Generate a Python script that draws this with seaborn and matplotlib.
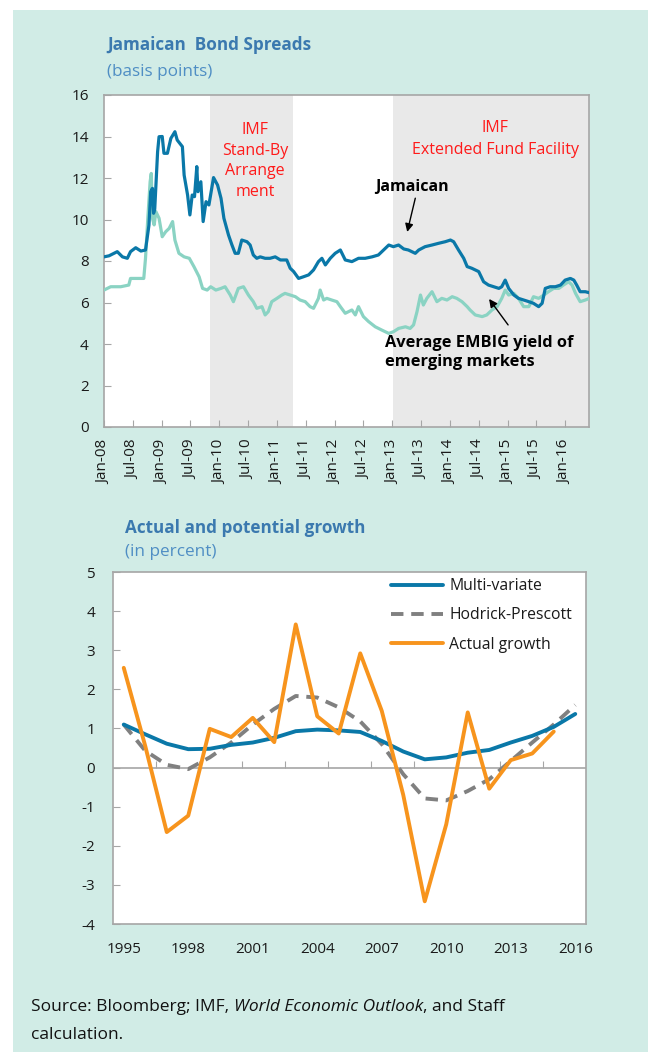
import numpy as np
import pandas as pd
import matplotlib
matplotlib.use("Agg")
import matplotlib.pyplot as plt
import matplotlib.dates as mdates
from matplotlib.patches import Rectangle
import seaborn as sns

# ---------------- data ----------------
# Top chart: years elapsed since Jan-2008, spreads in basis points (x100)
jam_t = [0, 0.087, 0.23, 0.32, 0.405, 0.46, 0.55, 0.64, 0.72, 0.78, 0.81, 0.84, 0.86, 0.88,
         0.93, 0.955, 1.01, 1.04, 1.10, 1.16, 1.23, 1.27, 1.36, 1.39, 1.45, 1.49, 1.53, 1.57,
         1.61, 1.63, 1.68, 1.72, 1.77, 1.82, 1.90, 1.97, 2.03, 2.08, 2.16, 2.22, 2.275, 2.33,
         2.39, 2.48, 2.535, 2.59, 2.65, 2.71, 2.795, 2.88, 2.97, 3.06, 3.17, 3.23, 3.29, 3.375,
         3.46, 3.55, 3.635, 3.72, 3.78, 3.84, 3.925, 4.01, 4.10, 4.185, 4.30, 4.415, 4.53, 4.65,
         4.76, 4.85, 4.94, 5.02, 5.11, 5.20, 5.28, 5.40, 5.46, 5.57, 5.69, 5.80, 5.92, 6.01,
         6.065, 6.15, 6.24, 6.30, 6.38, 6.50, 6.585, 6.67, 6.76, 6.85, 6.90, 6.96, 7.02, 7.11,
         7.19, 7.28, 7.37, 7.45, 7.54, 7.60, 7.655, 7.74, 7.83, 7.92, 8.00, 8.09, 8.15, 8.20,
         8.26, 8.35, 8.42]
jam_v = [8.2, 8.25, 8.45, 8.2, 8.13, 8.45, 8.64, 8.48, 8.53, 9.73, 11.34, 11.5, 10.3, 10.5,
         13.27, 13.99, 14.0, 13.19, 13.19, 13.91, 14.23, 13.83, 13.51, 12.14, 11.18, 10.22, 11.18, 11.1,
         12.55, 11.34, 11.82, 9.9, 10.86, 10.7, 12.02, 11.66, 11.02, 10.06, 9.25, 8.77, 8.37, 8.37,
         9.01, 8.93, 8.77, 8.29, 8.13, 8.2, 8.13, 8.13, 8.2, 8.05, 8.05, 7.65, 7.49, 7.16,
         7.24, 7.33, 7.57, 7.97, 8.13, 7.81, 8.13, 8.37, 8.53, 8.05, 7.97, 8.13, 8.13, 8.2,
         8.29, 8.53, 8.77, 8.69, 8.77, 8.58, 8.53, 8.37, 8.53, 8.69, 8.77, 8.85, 8.93, 9.01,
         8.93, 8.53, 8.13, 7.73, 7.65, 7.49, 7.0, 6.84, 6.76, 6.68, 6.76, 7.08, 6.68, 6.36,
         6.2, 6.12, 6.04, 5.96, 5.8, 5.96, 6.68, 6.76, 6.76, 6.84, 7.08, 7.16, 7.08, 6.84,
         6.52, 6.52, 6.47]

emb_t = [0, 0.116, 0.29, 0.43, 0.46, 0.58, 0.69, 0.72, 0.76, 0.80, 0.82, 0.84, 0.87, 0.90,
         0.955, 1.01, 1.07, 1.13, 1.19, 1.23, 1.30, 1.39, 1.48, 1.56, 1.65, 1.71, 1.79, 1.85,
         1.94, 2.03, 2.10, 2.19, 2.245, 2.33, 2.42, 2.505, 2.59, 2.65, 2.74, 2.795, 2.85, 2.91,
         3.0, 3.085, 3.14, 3.23, 3.32, 3.40, 3.49, 3.575, 3.635, 3.72, 3.75, 3.81, 3.865, 3.95,
         4.04, 4.10, 4.185, 4.30, 4.36, 4.415, 4.50, 4.59, 4.705, 4.82, 4.94, 5.02, 5.11, 5.23,
         5.31, 5.37, 5.43, 5.49, 5.54, 5.60, 5.69, 5.775, 5.86, 5.95, 6.04, 6.12, 6.21, 6.30,
         6.35, 6.44, 6.56, 6.64, 6.73, 6.82, 6.90, 6.96, 7.02, 7.11, 7.19, 7.28, 7.37, 7.45,
         7.54, 7.63, 7.71, 7.80, 7.89, 7.97, 8.06, 8.12, 8.18, 8.26, 8.35, 8.42]
emb_v = [6.6, 6.76, 6.76, 6.84, 7.16, 7.16, 7.16, 8.13, 10.06, 11.82, 12.22, 10.06, 9.74, 10.38,
         10.06, 9.17, 9.41, 9.57, 9.9, 9.01, 8.37, 8.2, 8.13, 7.73, 7.24, 6.68, 6.6, 6.76,
         6.6, 6.68, 6.76, 6.36, 6.04, 6.68, 6.76, 6.36, 6.04, 5.72, 5.8, 5.4, 5.56, 6.04,
         6.2, 6.36, 6.44, 6.36, 6.28, 6.12, 6.04, 5.8, 5.72, 6.2, 6.6, 6.12, 6.2, 6.12,
         6.04, 5.8, 5.48, 5.64, 5.4, 5.8, 5.32, 5.08, 4.83, 4.67, 4.51, 4.59, 4.75, 4.83,
         4.75, 4.92, 5.56, 6.36, 5.88, 6.2, 6.52, 6.04, 6.2, 6.12, 6.28, 6.2, 6.04, 5.8,
         5.64, 5.4, 5.32, 5.4, 5.64, 5.8, 6.2, 6.6, 6.36, 6.44, 6.2, 5.8, 5.8, 6.28,
         6.2, 6.36, 6.52, 6.68, 6.68, 6.84, 7.0, 6.84, 6.44, 6.04, 6.12, 6.2]

sba_period = ("2009-11-02", "2011-04-11")
eff_period = ("2013-01-07", "2016-05-31")
top_xlim = ("2008-01-01", "2016-05-31")

# Bottom chart
years = list(range(1995, 2017))
multi_variate = [1.10, 0.85, 0.61, 0.47, 0.48, 0.58, 0.64, 0.76, 0.93, 0.97, 0.95, 0.91,
                 0.68, 0.41, 0.21, 0.26, 0.38, 0.45, 0.64, 0.81, 1.04, 1.37]
hodrick_prescott = [1.10, 0.43, 0.07, -0.04, 0.26, 0.64, 1.10, 1.50, 1.83, 1.79, 1.54, 1.18,
                    0.60, -0.17, -0.79, -0.84, -0.60, -0.30, 0.17, 0.64, 1.10, 1.60]
actual_growth = [2.55, 0.55, -1.65, -1.23, 0.99, 0.78, 1.27, 0.65, 3.66, 1.31, 0.87, 2.92,
                 1.45, -0.70, -3.42, -1.45, 1.41, -0.54, 0.19, 0.36, 0.92, np.nan]

# ---------------- style ----------------
sns.set_style("white")
plt.rcParams['font.family'] = ['Open Sans', 'DejaVu Sans']
plt.rcParams['axes.linewidth'] = 1.0
plt.rcParams['axes.unicode_minus'] = False

MINT = '#D1ECE6'
FRAME = '#A6A6A6'
TITLE_C = '#3B79AF'
SUB_C = '#4F8EC4'
JAM_C = '#0A78A8'
EMB_C = '#8AD3C3'
RED = '#FF1A1A'
TXT = '#1A1A1A'

W, H = 656, 1062
fig = plt.figure(figsize=(W / 100, H / 100), dpi=100)
fig.patches.append(Rectangle((13 / W, 1 - 1052 / H), (648 - 13) / W, (1052 - 10) / H,
                             transform=fig.transFigure, facecolor=MINT, edgecolor='none', zorder=-10))

def fx(px):
    return px / W

def fy(py):
    return 1 - py / H

# ---------------- top chart ----------------
ax1 = fig.add_axes([fx(104), fy(427), fx(589) - fx(104), fy(95) - fy(427)])
ax1.set_facecolor('white')
base = pd.Timestamp("2008-01-01")
df_j = pd.DataFrame({"date": base + pd.to_timedelta(np.array(jam_t) * 365.25, unit="D"),
                     "value": jam_v})
df_e = pd.DataFrame({"date": base + pd.to_timedelta(np.array(emb_t) * 365.25, unit="D"),
                     "value": emb_v})

ax1.axvspan(pd.Timestamp(sba_period[0]), pd.Timestamp(sba_period[1]), color='#E9E9E9', lw=0, zorder=0)
ax1.axvspan(pd.Timestamp(eff_period[0]), pd.Timestamp(eff_period[1]), color='#E9E9E9', lw=0, zorder=0)

sns.lineplot(data=df_e, x="date", y="value", ax=ax1, color=EMB_C, lw=2.3, zorder=3)
sns.lineplot(data=df_j, x="date", y="value", ax=ax1, color=JAM_C, lw=2.3, zorder=4)

ax1.set_xlim(pd.Timestamp(top_xlim[0]), pd.Timestamp(top_xlim[1]))
ax1.set_ylim(0, 16)
ax1.set_yticks(range(0, 17, 2))
ax1.xaxis.set_major_locator(mdates.MonthLocator(bymonth=[1, 7]))
ax1.xaxis.set_major_formatter(mdates.DateFormatter('%b-%y'))
ax1.set_xticks([t for t in ax1.get_xticks() if t < mdates.date2num(pd.Timestamp("2016-03-01"))])
ax1.set_xlabel("")
ax1.set_ylabel("")
for s in ax1.spines.values():
    s.set_color(FRAME)
    s.set_linewidth(1.2)
ax1.tick_params(axis='y', direction='in', length=5, color=FRAME, labelsize=11, pad=11,
                labelcolor=TXT, left=True)
ax1.tick_params(axis='x', direction='in', length=5, color=FRAME, labelsize=11, pad=9,
                labelcolor=TXT, bottom=True, labelrotation=90)

def d(t):
    return base + pd.Timedelta(days=t * 365.25)

ax1.text(d(2.62), 12.82, "IMF\nStand-By\nArrange\nment", color=RED, fontsize=11.5,
         ha='center', va='center', linespacing=1.38, zorder=5)
ax1.text(d(6.79), 13.88, "IMF\nExtended Fund Facility", color=RED, fontsize=11.5,
         ha='center', va='center', linespacing=1.42, zorder=5)
ax1.annotate("Jamaican", xy=(d(5.26), 9.4), xytext=(d(5.35), 11.57), fontsize=11.5,
             fontweight='bold', ha='center', va='center', color='black', zorder=6,
             arrowprops=dict(arrowstyle='-|>', color='black', lw=1.0, mutation_scale=12,
                             shrinkA=0, shrinkB=0, relpos=(0.55, 0)))
ax1.annotate("", xy=(d(6.68), 6.17), xytext=(d(7.01), 4.92), zorder=6,
             arrowprops=dict(arrowstyle='-|>', color='black', lw=1.0, mutation_scale=12,
                             shrinkA=0, shrinkB=0))
ax1.text(d(4.88), 3.59, "Average EMBIG yield of\nemerging markets", fontsize=11.8,
         fontweight='bold', ha='left', va='center', color='black', linespacing=1.32, zorder=6)

fig.text(fx(107), fy(45), "Jamaican  Bond Spreads", fontsize=12.3, fontweight='bold',
         color=TITLE_C, ha='left', va='center')
fig.text(fx(107), fy(72), "(basis points)", fontsize=12.3, color=SUB_C, ha='left', va='center')

# ---------------- bottom chart ----------------
ax2 = fig.add_axes([fx(113), fy(924), fx(586) - fx(113), fy(572) - fy(924)])
ax2.set_facecolor('white')
df_g = pd.DataFrame({"year": years, "Multi-variate": multi_variate,
                     "Hodrick-Prescott": hodrick_prescott, "Actual growth": actual_growth})
sns.lineplot(data=df_g, x="year", y="Multi-variate", ax=ax2, color='#0A78A8', lw=2.8,
             label="Multi-variate", zorder=3)
sns.lineplot(data=df_g, x="year", y="Hodrick-Prescott", ax=ax2, color='#808080', lw=2.8,
             linestyle=(0, (3.2, 2.0)), label="Hodrick-Prescott", zorder=2)
sns.lineplot(data=df_g, x="year", y="Actual growth", ax=ax2, color='#F7941D', lw=2.8,
             label="Actual growth", zorder=4)
ax2.set_xlim(1994.5, 2016.5)
ax2.set_ylim(-4, 5)
ax2.set_yticks(range(-4, 6))
ax2.set_xticks(years[::3])
ax2.set_xlabel("")
ax2.set_ylabel("")
for s in ax2.spines.values():
    s.set_color(FRAME)
    s.set_linewidth(1.2)
ax2.tick_params(axis='y', direction='in', length=5, color=FRAME, labelsize=11, pad=13,
                labelcolor=TXT, left=True)
ax2.tick_params(axis='x', length=0, labelsize=11, pad=13, labelcolor=TXT)
ax2.axhline(0, color=FRAME, lw=1.2, zorder=1)
sec = ax2.secondary_xaxis(4 / 9)
sec.set_xticks(np.arange(1996.5, 2015, 2))
sec.tick_params(direction='in', length=5, color=FRAME, labelbottom=False, labeltop=False)
sec.spines['bottom'].set_visible(False)
sec.spines['top'].set_visible(False)

leg = ax2.legend(loc='upper left', bbox_to_anchor=(fx(391), fy(578)), bbox_transform=fig.transFigure,
                 frameon=False, fontsize=11.3, handlelength=3.3, handletextpad=0.4,
                 labelspacing=0.85, borderaxespad=0, borderpad=0)
for t in leg.get_texts():
    t.set_color(TXT)

fig.text(fx(125), fy(528), "Actual and potential growth", fontsize=12.3, fontweight='bold',
         color=TITLE_C, ha='left', va='center')
fig.text(fx(125), fy(552), "(in percent)", fontsize=12.3, color=SUB_C, ha='left', va='center')

# ---------------- source ----------------
src_kw = dict(fontsize=12.5, color='#111111')
t1 = fig.text(fx(31), fy(1011), "Source: Bloomberg; IMF, ", ha='left', va='baseline', **src_kw)
t2 = plt.annotate("World Economic Outlook", xy=(1, 0), xycoords=t1, xytext=(0, 0),
                  textcoords='offset points', style='italic', ha='left', va='bottom',
                  annotation_clip=False, **src_kw)
t3 = plt.annotate(", and Staff", xy=(1, 0), xycoords=t2, xytext=(0, 0),
                  textcoords='offset points', ha='left', va='bottom', annotation_clip=False,
                  **src_kw)
fig.text(fx(31), fy(1039), "calculation.", ha='left', va='baseline', **src_kw)

fig.savefig("out.png", dpi=100)
